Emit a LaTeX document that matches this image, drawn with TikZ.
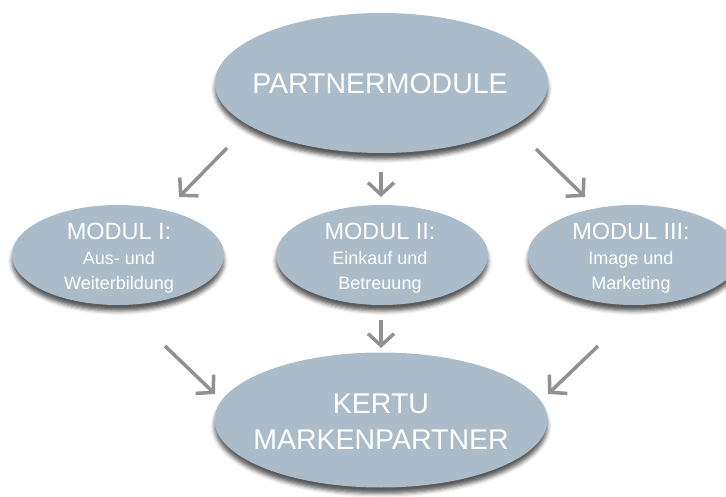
\documentclass[tikz,border=0pt]{standalone}
\usepackage{fontspec}
\setmainfont{Liberation Sans}
\usetikzlibrary{shapes.geometric,arrows.meta,shadows.blur}
\definecolor{ellfill}{RGB}{170,188,201}
\definecolor{arrgray}{RGB}{145,145,145}
\tikzset{
  ell/.style={ellipse, fill=ellfill, inner sep=0pt, draw=none,
    blur shadow={shadow xshift=0pt, shadow yshift=-6pt, shadow blur radius=4pt, shadow opacity=65}},
  bigell/.style={ell, minimum width=333pt, minimum height=140pt},
  midell/.style={ell, minimum width=212pt, minimum height=100pt},
  bigtxt/.style={text=white, inner sep=0pt, anchor=base, font=\fontsize{28.5}{30}\selectfont},
  headtxt/.style={text=white, inner sep=0pt, anchor=base, font=\fontsize{23.5}{24}\selectfont},
  subtxt/.style={text=white, inner sep=0pt, anchor=base, font=\fontsize{18}{20}\selectfont},
  arr/.style={draw=arrgray, line width=3.5pt,
    -{Straight Barb[length=12pt, width=26pt, line width=3.5pt]}}
}
\begin{document}
\begin{tikzpicture}[x=1pt, y=-1pt]
\useasboundingbox (0,0) rectangle (726,497);
% ellipses
\node[bigell] (top) at (381.5,83) {};
\node[midell] (m1) at (118,255) {};
\node[midell] (m2) at (382,255) {};
\node[midell] (m3) at (634,255) {};
\node[bigell, minimum height=135pt] (bot) at (381,420) {};
% texts
\node[bigtxt] (toptxt) at (380,94) {PARTNERMODULE};
\node[headtxt] (m1a) at (119,240) {MODUL I:};
\node[subtxt] (m1b) at (119,265) {Aus- und};
\node[subtxt] (m1c) at (119,290) {Weiterbildung};
\node[headtxt] (m2a) at (380,240) {MODUL II:};
\node[subtxt] (m2b) at (380,265) {Einkauf und};
\node[subtxt] (m2c) at (380,290) {Betreuung};
\node[headtxt] (m3a) at (631,240) {MODUL III:};
\node[subtxt] (m3b) at (631,265) {Image und};
\node[subtxt] (m3c) at (631,290) {Marketing};
\node[bigtxt] (bota) at (381,413) {KERTU};
\node[bigtxt] (botb) at (381,449) {MARKENPARTNER};
% arrow end points
\coordinate (a1s) at (227,148); \coordinate (a1e) at (179,197);
\coordinate (a2s) at (381,172); \coordinate (a2e) at (381,197);
\coordinate (a3s) at (536,149); \coordinate (a3e) at (585,197);
\coordinate (a4s) at (165,346); \coordinate (a4e) at (215,394);
\coordinate (a5s) at (381,320); \coordinate (a5e) at (381,348);
\coordinate (a6s) at (598,346); \coordinate (a6e) at (548,394);
\draw[arr] (a1s) -- (a1e);
\draw[arr] (a2s) -- (a2e);
\draw[arr] (a3s) -- (a3e);
\draw[arr] (a4s) -- (a4e);
\draw[arr] (a5s) -- (a5e);
\draw[arr] (a6s) -- (a6e);
\end{tikzpicture}
\end{document}
